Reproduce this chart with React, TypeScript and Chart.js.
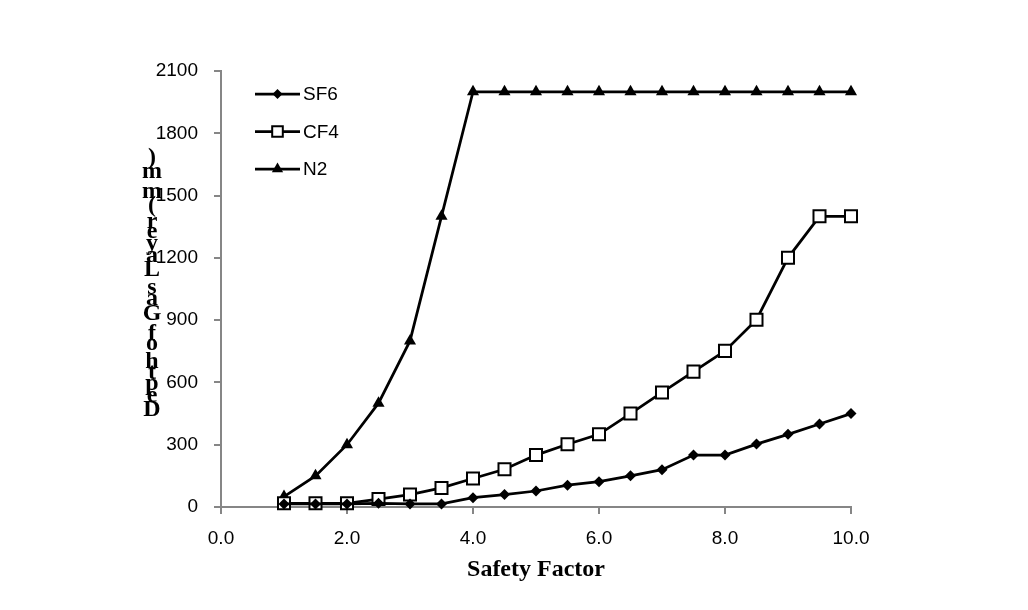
import React, { useEffect, useRef } from 'react';
import { Chart, registerables } from 'chart.js';

Chart.register(...registerables);

const safetyFactor = [1, 1.5, 2, 2.5, 3, 3.5, 4, 4.5, 5, 5.5, 6, 6.5, 7, 7.5, 8, 8.5, 9, 9.5, 10];
const sf6 = [15, 15, 15, 18, 15, 15, 45, 60, 77, 105, 122, 150, 180, 250, 250, 303, 350, 400, 450];
const cf4 = [18, 18, 18, 38, 60, 92, 137, 182, 250, 302, 350, 450, 552, 652, 752, 902, 1200, 1400, 1400];
const n2 = [50, 150, 300, 500, 800, 1400, 2000, 2000, 2000, 2000, 2000, 2000, 2000, 2000, 2000, 2000, 2000, 2000, 2000];
const seriesLabels = ['SF6', 'CF4', 'N2'];
const xTicks = [0, 2, 4, 6, 8, 10];
const yTicks = [0, 300, 600, 900, 1200, 1500, 1800, 2100];
const xTitle = 'Safety Factor';
const yTitle = 'Depth of Gas Layer (mm)';

const AXIS_GREY = '#868686';
const TICK_FONT = { family: '"Liberation Sans", Arial, sans-serif', size: 19 };

type MarkerStyle = 'rectRot' | 'rect' | 'triangle';

function drawMarker(ctx: CanvasRenderingContext2D, style: MarkerStyle, x: number, y: number, r: number) {
  ctx.save();
  ctx.beginPath();
  if (style === 'rectRot') {
    ctx.moveTo(x - r, y);
    ctx.lineTo(x, y - r);
    ctx.lineTo(x + r, y);
    ctx.lineTo(x, y + r);
    ctx.closePath();
    ctx.fillStyle = '#000';
    ctx.fill();
  } else if (style === 'rect') {
    const s = Math.SQRT1_2 * r;
    ctx.rect(x - s, y - s, 2 * s, 2 * s);
    ctx.fillStyle = '#fff';
    ctx.fill();
    ctx.lineWidth = 2;
    ctx.strokeStyle = '#000';
    ctx.stroke();
  } else {
    const a = -Math.PI / 2;
    for (let k = 0; k < 3; k++) {
      const ang = a + (k * 2 * Math.PI) / 3;
      const px = x + Math.cos(ang) * r;
      const py = y + Math.sin(ang) * r;
      if (k === 0) ctx.moveTo(px, py);
      else ctx.lineTo(px, py);
    }
    ctx.closePath();
    ctx.fillStyle = '#000';
    ctx.fill();
  }
  ctx.restore();
}

const markerStyles: MarkerStyle[] = ['rectRot', 'rect', 'triangle'];
const markerRadii = [5.5, 8.5, 7];
const legendRadii = [5, 7.5, 6.5];

const legendPlugin = {
  id: 'insideLegend',
  afterDraw(chart: any) {
    const ctx: CanvasRenderingContext2D = chart.ctx;
    const x0 = 255;
    const x1 = 300;
    const yStart = 94;
    const step = 37.5;
    chart.data.datasets.forEach((ds: any, i: number) => {
      const y = yStart + i * step;
      ctx.save();
      ctx.strokeStyle = '#000';
      ctx.lineWidth = 2.75;
      ctx.beginPath();
      ctx.moveTo(x0, y);
      ctx.lineTo(x1, y);
      ctx.stroke();
      ctx.restore();
      drawMarker(ctx, markerStyles[i], (x0 + x1) / 2, y, legendRadii[i]);
      ctx.save();
      ctx.fillStyle = '#000';
      ctx.font = `${TICK_FONT.size}px ${TICK_FONT.family}`;
      ctx.textAlign = 'left';
      ctx.textBaseline = 'middle';
      ctx.fillText(ds.label, x1 + 3, y + 1);
      ctx.restore();
    });
  },
};

const stackedYTitlePlugin = {
  id: 'stackedYTitle',
  afterDraw(chart: any) {
    const ctx: CanvasRenderingContext2D = chart.ctx;
    ctx.save();
    ctx.font = 'bold 24px "Liberation Serif", "Times New Roman", serif';
    ctx.fillStyle = '#000';
    ctx.textAlign = 'center';
    ctx.textBaseline = 'middle';
    const total = ctx.measureText(yTitle).width;
    const cx = 152;
    const cy = 286;
    const bottom = cy + total / 2;
    for (let i = 0; i < yTitle.length; i++) {
      const ch = yTitle[i];
      const pre = ctx.measureText(yTitle.slice(0, i)).width;
      const w = ctx.measureText(ch).width;
      if (ch === ' ') continue;
      ctx.fillText(ch, cx, bottom - pre - w / 2);
    }
    ctx.restore();
  },
};

export default function App() {
  const canvasRef = useRef<HTMLCanvasElement | null>(null);

  useEffect(() => {
    if (!canvasRef.current) return;
    const common = {
      borderColor: '#000',
      borderWidth: 2.75,
      tension: 0,
      pointBorderColor: '#000',
      clip: false as const,
    };
    const chart = new Chart(canvasRef.current, {
      type: 'line',
      data: {
        datasets: [
          {
            ...common,
            label: seriesLabels[0],
            data: safetyFactor.map((x, i) => ({ x, y: sf6[i] })),
            pointStyle: 'rectRot',
            pointRadius: markerRadii[0],
            pointBackgroundColor: '#000',
            pointBorderWidth: 0,
            order: 1,
          },
          {
            ...common,
            label: seriesLabels[1],
            data: safetyFactor.map((x, i) => ({ x, y: cf4[i] })),
            pointStyle: 'rect',
            pointRadius: markerRadii[1],
            pointBackgroundColor: '#fff',
            pointBorderWidth: 2,
            order: 2,
          },
          {
            ...common,
            label: seriesLabels[2],
            data: safetyFactor.map((x, i) => ({ x, y: n2[i] })),
            pointStyle: 'triangle',
            pointRadius: markerRadii[2],
            pointBackgroundColor: '#000',
            pointBorderWidth: 0,
            order: 3,
          },
        ],
      },
      options: {
        responsive: false,
        animation: false,
        devicePixelRatio: 1,
        layout: { padding: { left: 0, top: 71, right: 177, bottom: 0 } },
        plugins: {
          legend: { display: false },
          tooltip: { enabled: false },
        },
        scales: {
          x: {
            type: 'linear',
            min: 0,
            max: 10,
            afterBuildTicks: (scale: any) => {
              scale.ticks = xTicks.map((v) => ({ value: v }));
            },
            afterFit: (scale: any) => {
              scale.height = 103;
            },
            ticks: {
              font: TICK_FONT,
              color: '#000',
              padding: 13,
              maxRotation: 0,
              callback: (v: any) => Number(v).toFixed(1),
            },
            grid: {
              display: true,
              drawOnChartArea: false,
              drawTicks: true,
              tickLength: 7,
              color: AXIS_GREY,
              lineWidth: 2,
            },
            border: { display: true, color: AXIS_GREY, width: 2 },
            title: {
              display: true,
              text: xTitle,
              color: '#000',
              font: { family: '"Liberation Serif", "Times New Roman", serif', size: 24, weight: 'bold' },
              padding: { top: 0, bottom: 26 },
            },
          },
          y: {
            type: 'linear',
            min: 0,
            max: 2100,
            afterBuildTicks: (scale: any) => {
              scale.ticks = yTicks.map((v) => ({ value: v }));
            },
            afterFit: (scale: any) => {
              scale.width = 221;
            },
            ticks: {
              font: TICK_FONT,
              color: '#000',
              padding: 16,
              callback: (v: any) => String(v),
            },
            grid: {
              display: true,
              drawOnChartArea: false,
              drawTicks: true,
              tickLength: 7,
              color: AXIS_GREY,
              lineWidth: 2,
            },
            border: { display: true, color: AXIS_GREY, width: 2 },
          },
        },
      },
      plugins: [legendPlugin, stackedYTitlePlugin],
    });
    return () => chart.destroy();
  }, []);

  return (
    <div style={{ position: 'fixed', left: 0, top: 0, width: 1028, height: 610, background: '#fff' }}>
      <canvas ref={canvasRef} width={1028} height={610} style={{ width: 1028, height: 610, display: 'block' }} />
    </div>
  );
}
